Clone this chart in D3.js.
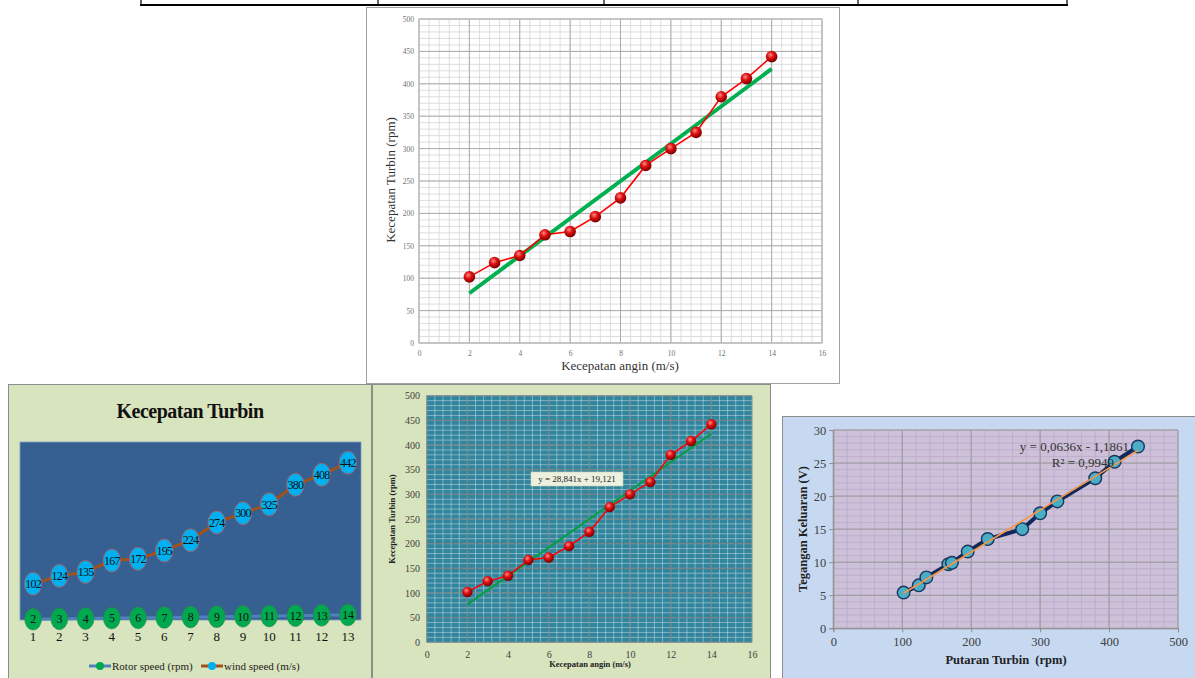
<!DOCTYPE html>
<html>
<head>
<script src="https://d3js.org/d3.v7.min.js"></script>
<style>
body { margin: 0; background: #fff; }
svg { display: block; }
</style>
</head>
<body>
<svg class="target" width="1195" height="678"></svg>
<script>

// data
const windSpeed = [2, 3, 4, 5, 6, 7, 8, 9, 10, 11, 12, 13, 14]
const rotorRpm = [102, 124, 135, 167, 172, 195, 224, 274, 300, 325, 380, 408, 442]
const voltage = [5.4, 6.5, 7.7, 9.7, 9.9, 11.6, 13.5, 15.0, 17.4, 19.2, 22.7, 25.2, 27.5]
const sampleNo = [1, 2, 3, 4, 5, 6, 7, 8, 9, 10, 11, 12, 13]
const fitRpm = { slope: 28.841, intercept: 19.121 }
const fitVolt = { slope: 0.0636, intercept: -1.1861 }
const windTicks = [0, 2, 4, 6, 8, 10, 12, 14, 16]
const rpmTicks = [0, 50, 100, 150, 200, 250, 300, 350, 400, 450, 500]
const rpmTicksX = [0, 100, 200, 300, 400, 500]
const voltTicks = [0, 5, 10, 15, 20, 25, 30]

const serif = '"Liberation Serif", "Times New Roman", serif'
const svg = d3.select('.target')

// table fragment at the very top
const table = svg.append('g').attr('stroke', '#000')
table.append('line').attr('x1', 140).attr('x2', 1068).attr('y1', 5).attr('y2', 5).attr('stroke-width', 2)
;[141, 378, 604, 858, 1067].forEach(x =>
  table.append('line').attr('x1', x).attr('x2', x).attr('y1', 0).attr('y2', 5).attr('stroke-width', 1.2))

// grid helper: minor + major lines inside a plot box
function grid(g, x, y, xMinor, yMinor, xMajor, yMajor, minorCol, majorCol, minorW, majorW) {
  const [x0, x1] = x.range(), [y0, y1] = y.range()
  const gl = g.append('g')
  gl.selectAll('.vmin').data(xMinor).join('line')
    .attr('x1', d => x(d)).attr('x2', d => x(d)).attr('y1', y0).attr('y2', y1)
    .attr('stroke', minorCol).attr('stroke-width', minorW)
  gl.selectAll('.hmin').data(yMinor).join('line')
    .attr('y1', d => y(d)).attr('y2', d => y(d)).attr('x1', x0).attr('x2', x1)
    .attr('stroke', minorCol).attr('stroke-width', minorW)
  gl.selectAll('.vmaj').data(xMajor).join('line')
    .attr('x1', d => x(d)).attr('x2', d => x(d)).attr('y1', y0).attr('y2', y1)
    .attr('stroke', majorCol).attr('stroke-width', majorW)
  gl.selectAll('.hmaj').data(yMajor).join('line')
    .attr('y1', d => y(d)).attr('y2', d => y(d)).attr('x1', x0).attr('x2', x1)
    .attr('stroke', majorCol).attr('stroke-width', majorW)
}

function styleAxis(sel, size, color) {
  sel.select('.domain').remove()
  sel.selectAll('.tick line').remove()
  sel.selectAll('text').style('font-family', serif).style('font-size', size + 'px').attr('fill', color)
}

// red sphere gradient
const defs = svg.append('defs')
const rg = defs.append('radialGradient').attr('id', 'ball').attr('cx', '40%').attr('cy', '35%').attr('r', '65%')
rg.append('stop').attr('offset', '0%').attr('stop-color', '#ff8a8a')
rg.append('stop').attr('offset', '45%').attr('stop-color', '#e01010')
rg.append('stop').attr('offset', '100%').attr('stop-color', '#7a0000')

const pts = windSpeed.map((w, i) => ({ w, r: rotorRpm[i], v: voltage[i], n: sampleNo[i] }))

// ---------------- top chart ----------------
{
  const g = svg.append('g')
  g.append('rect').attr('x', 366.5).attr('y', 7.5).attr('width', 473).attr('height', 376)
    .attr('fill', '#fff').attr('stroke', '#a0a0a0')
  const x = d3.scaleLinear([0, 16], [419, 822])
  const y = d3.scaleLinear([0, 500], [343, 19])
  grid(g, x, y, d3.range(0, 16.01, 0.4), d3.range(0, 501, 10), windTicks, rpmTicks, '#d6d6d6', '#ababab', 0.8, 1)
  g.append('rect').attr('x', 419).attr('y', 19).attr('width', 403).attr('height', 324)
    .attr('fill', 'none').attr('stroke', '#bdbdbd')

  g.append('g').attr('transform', 'translate(0,351)')
    .call(d3.axisBottom(x).tickValues(windTicks).tickSize(0).tickPadding(0))
    .call(s => styleAxis(s, 7.5, '#707070'))
  g.append('g').attr('transform', 'translate(414,0)')
    .call(d3.axisLeft(y).tickValues(rpmTicks).tickSize(0).tickPadding(0))
    .call(s => styleAxis(s, 7.5, '#707070'))
    .selectAll('text').attr('dy', '0.32em')

  g.append('text').attr('x', 620).attr('y', 370).attr('text-anchor', 'middle')
    .style('font-family', serif).style('font-size', '13px').attr('fill', '#333')
    .text('Kecepatan angin (m/s)')
  g.append('text').attr('transform', 'translate(395,180) rotate(-90)').attr('text-anchor', 'middle')
    .style('font-family', serif).style('font-size', '13px').attr('fill', '#333')
    .text('Kecepatan Turbin (rpm)')

  g.append('line')
    .attr('x1', x(2)).attr('y1', y(fitRpm.slope * 2 + fitRpm.intercept))
    .attr('x2', x(14)).attr('y2', y(fitRpm.slope * 14 + fitRpm.intercept))
    .attr('stroke', '#00b050').attr('stroke-width', 4)
  g.append('path').datum(pts)
    .attr('d', d3.line(d => x(d.w), d => y(d.r)))
    .attr('fill', 'none').attr('stroke', '#ff0000').attr('stroke-width', 1.6)
  g.selectAll('.ball').data(pts).join('circle')
    .attr('cx', d => x(d.w)).attr('cy', d => y(d.r)).attr('r', 5.8)
    .attr('fill', 'url(#ball)')
}

// ---------------- bottom-left chart ----------------
{
  const g = svg.append('g')
  g.append('rect').attr('x', 8.5).attr('y', 384.5).attr('width', 363).attr('height', 294)
    .attr('fill', '#d8e4bd').attr('stroke', '#8c8c8c')
  g.append('text').attr('x', 190).attr('y', 418).attr('text-anchor', 'middle')
    .style('font-family', serif).style('font-size', '20px').style('font-weight', 'bold')
    .style('letter-spacing', '-0.5px').attr('fill', '#111')
    .text('Kecepatan Turbin')

  const x = d3.scaleBand(sampleNo, [20, 361])
  const y = d3.scaleLinear([0, 500], [620, 442])
  const cx = d => x(d.n) + x.bandwidth() / 2
  g.append('rect').attr('x', 20).attr('y', 442).attr('width', 341).attr('height', 178)
    .attr('fill', '#376092').attr('stroke', '#7d9bc1').attr('stroke-width', 0.8)

  g.append('g').attr('transform', 'translate(0,632)')
    .call(d3.axisBottom(x).tickSize(0).tickPadding(0))
    .call(s => styleAxis(s, 13, '#111'))

  // rotor series (values 2..14) near the bottom
  g.append('path').datum(pts).attr('d', d3.line(cx, d => y(d.w)))
    .attr('fill', 'none').attr('stroke', '#4f81bd').attr('stroke-width', 3)
  g.selectAll('.gm').data(pts).join('ellipse')
    .attr('cx', cx).attr('cy', d => y(d.w)).attr('rx', 8.4).attr('ry', 10.8)
    .attr('fill', '#00a94f').attr('stroke', '#2e8b3e').attr('stroke-width', 0.6)
  g.selectAll('.gt').data(pts).join('text')
    .attr('x', cx).attr('y', d => y(d.w)).attr('dy', '0.35em').attr('text-anchor', 'middle')
    .style('font-family', serif).style('font-size', '12px').style('letter-spacing', '-0.4px').attr('fill', '#111')
    .text(d => d.w)

  // wind series (values 102..442)
  g.append('path').datum(pts).attr('d', d3.line(cx, d => y(d.r)))
    .attr('fill', 'none').attr('stroke', '#a0521b').attr('stroke-width', 3)
  g.selectAll('.bm').data(pts).join('ellipse')
    .attr('cx', cx).attr('cy', d => y(d.r)).attr('rx', 8.8).attr('ry', 11.5)
    .attr('fill', '#00b0f0').attr('stroke', '#c0504d').attr('stroke-width', 0.8)
  g.selectAll('.bt').data(pts).join('text')
    .attr('x', cx).attr('y', d => y(d.r)).attr('dy', '0.35em').attr('text-anchor', 'middle')
    .style('font-family', serif).style('font-size', '12px').style('letter-spacing', '-0.8px').attr('fill', '#111')
    .text(d => d.r)

  // legend
  const leg = [
    { x: 89, line: '#4f81bd', dot: '#00a94f', label: 'Rotor speed (rpm)' },
    { x: 201, line: '#a0521b', dot: '#00b0f0', label: 'wind speed (m/s)' }
  ]
  const lg = g.selectAll('.leg').data(leg).join('g').attr('transform', d => `translate(${d.x},666)`)
  lg.append('line').attr('x1', 0).attr('x2', 22).attr('stroke', d => d.line).attr('stroke-width', 3)
  lg.append('circle').attr('cx', 11).attr('r', 4).attr('fill', d => d.dot)
  lg.append('text').attr('x', 23).attr('dy', '0.35em')
    .style('font-family', serif).style('font-size', '11px').attr('fill', '#222')
    .text(d => d.label)
}

// ---------------- bottom-middle chart ----------------
{
  const g = svg.append('g')
  g.append('rect').attr('x', 372.5).attr('y', 384.5).attr('width', 398).attr('height', 294)
    .attr('fill', '#d8e4bd').attr('stroke', '#8c8c8c')
  const x = d3.scaleLinear([0, 16], [426.7, 752])
  const y = d3.scaleLinear([0, 500], [642.3, 395.7])
  g.append('rect').attr('x', 426.7).attr('y', 395.7).attr('width', 325.3).attr('height', 246.6)
    .attr('fill', '#31859c')
  grid(g, x, y, d3.range(0, 16.01, 0.4), d3.range(0, 501, 10), windTicks, rpmTicks,
    'rgba(230,240,245,0.55)', 'rgba(120,120,120,0.85)', 0.8, 1)

  g.append('g').attr('transform', 'translate(0,651)')
    .call(d3.axisBottom(x).tickValues(windTicks).tickSize(0).tickPadding(0))
    .call(s => styleAxis(s, 10, '#404040'))
  g.append('g').attr('transform', 'translate(420,0)')
    .call(d3.axisLeft(y).tickValues(rpmTicks).tickSize(0).tickPadding(0))
    .call(s => styleAxis(s, 10, '#404040'))
    .selectAll('text').attr('dy', '0.32em')

  g.append('text').attr('x', 590).attr('y', 667).attr('text-anchor', 'middle')
    .style('font-family', serif).style('font-size', '8.5px').style('font-weight', 'bold').attr('fill', '#222')
    .text('Kecepatan angin (m/s)')
  g.append('text').attr('transform', 'translate(395,519) rotate(-90)').attr('text-anchor', 'middle')
    .style('font-family', serif).style('font-size', '8.5px').style('font-weight', 'bold').attr('fill', '#222')
    .text('Kecepatan Turbin (rpm)')

  g.append('line')
    .attr('x1', x(2)).attr('y1', y(fitRpm.slope * 2 + fitRpm.intercept))
    .attr('x2', x(14)).attr('y2', y(fitRpm.slope * 14 + fitRpm.intercept))
    .attr('stroke', '#00a040').attr('stroke-width', 2)
  g.append('path').datum(pts)
    .attr('d', d3.line(d => x(d.w), d => y(d.r)))
    .attr('fill', 'none').attr('stroke', '#ff0000').attr('stroke-width', 1.5)
  g.selectAll('.ball').data(pts).join('circle')
    .attr('cx', d => x(d.w)).attr('cy', d => y(d.r)).attr('r', 5.2)
    .attr('fill', 'url(#ball)')

  g.append('rect').attr('x', 531).attr('y', 472).attr('width', 92).attr('height', 14)
    .attr('fill', '#ebf1de').attr('stroke', '#c9d3b5').attr('stroke-width', 0.6)
  g.append('text').attr('x', 577).attr('y', 479).attr('dy', '0.35em').attr('text-anchor', 'middle')
    .style('font-family', serif).style('font-size', '9px').attr('fill', '#222')
    .text('y = 28,841x + 19,121')
}

// ---------------- bottom-right chart ----------------
{
  const g = svg.append('g')
  g.append('rect').attr('x', 782.5).attr('y', 416.5).attr('width', 413).attr('height', 262)
    .attr('fill', '#c6d9f1').attr('stroke', '#8c8c8c')
  const x = d3.scaleLinear([0, 500], [833.3, 1178])
  const y = d3.scaleLinear([0, 30], [628.3, 430])
  g.append('rect').attr('x', 833.3).attr('y', 430).attr('width', 344.7).attr('height', 198.3)
    .attr('fill', '#cdc0d9')
  grid(g, x, y, d3.range(0, 501, 20), d3.range(0, 30.1, 1), rpmTicksX, voltTicks,
    '#bba9c9', '#9a9a9a', 0.8, 1)

  g.append('g').attr('transform', 'translate(0,628.3)')
    .call(d3.axisBottom(x).tickValues(rpmTicksX).tickSize(4).tickPadding(5))
    .call(s => {
      s.select('.domain').attr('stroke', '#8c8c8c')
      s.selectAll('.tick line').attr('stroke', '#8c8c8c')
      s.selectAll('text').style('font-family', serif).style('font-size', '12.5px').attr('fill', '#404040')
    })
  g.append('g').attr('transform', 'translate(833.3,0)')
    .call(d3.axisLeft(y).tickValues(voltTicks).tickSize(4).tickPadding(3))
    .call(s => {
      s.select('.domain').attr('stroke', '#8c8c8c')
      s.selectAll('.tick line').attr('stroke', '#8c8c8c')
      s.selectAll('text').style('font-family', serif).style('font-size', '12.5px').attr('fill', '#404040')
    })

  g.append('text').attr('x', 1006).attr('y', 664).attr('text-anchor', 'middle')
    .style('font-family', serif).style('font-size', '12.5px').style('font-weight', 'bold').attr('fill', '#222')
    .style('white-space', 'pre')
    .text('Putaran Turbin  (rpm)')
  g.append('text').attr('transform', 'translate(807,529) rotate(-90)').attr('text-anchor', 'middle')
    .style('font-family', serif).style('font-size', '12.5px').style('font-weight', 'bold').attr('fill', '#222')
    .text('Tegangan Keluaran (V)')

  g.append('path').datum(pts)
    .attr('d', d3.line(d => x(d.r), d => y(d.v)))
    .attr('fill', 'none').attr('stroke', '#10285a').attr('stroke-width', 4).attr('stroke-linejoin', 'round')
  g.selectAll('.dot').data(pts).join('circle')
    .attr('cx', d => x(d.r)).attr('cy', d => y(d.v)).attr('r', 6.3)
    .attr('fill', '#4bacc6').attr('stroke', '#17375e').attr('stroke-width', 1.4)
  const r0 = d3.min(rotorRpm), r1 = d3.max(rotorRpm)
  g.append('line')
    .attr('x1', x(r0)).attr('y1', y(fitVolt.slope * r0 + fitVolt.intercept))
    .attr('x2', x(r1)).attr('y2', y(fitVolt.slope * r1 + fitVolt.intercept))
    .attr('stroke', '#f79646').attr('stroke-width', 1.6)

  g.append('text').attr('x', 1129).attr('y', 446).attr('dy', '0.35em').attr('text-anchor', 'end')
    .style('font-family', serif).style('font-size', '13px').attr('fill', '#333')
    .text('y = 0,0636x - 1,1861')
  g.append('text').attr('x', 1114).attr('y', 462).attr('dy', '0.35em').attr('text-anchor', 'end')
    .style('font-family', serif).style('font-size', '13px').attr('fill', '#333')
    .text('R² = 0,9949')
}

</script>
</body>
</html>
